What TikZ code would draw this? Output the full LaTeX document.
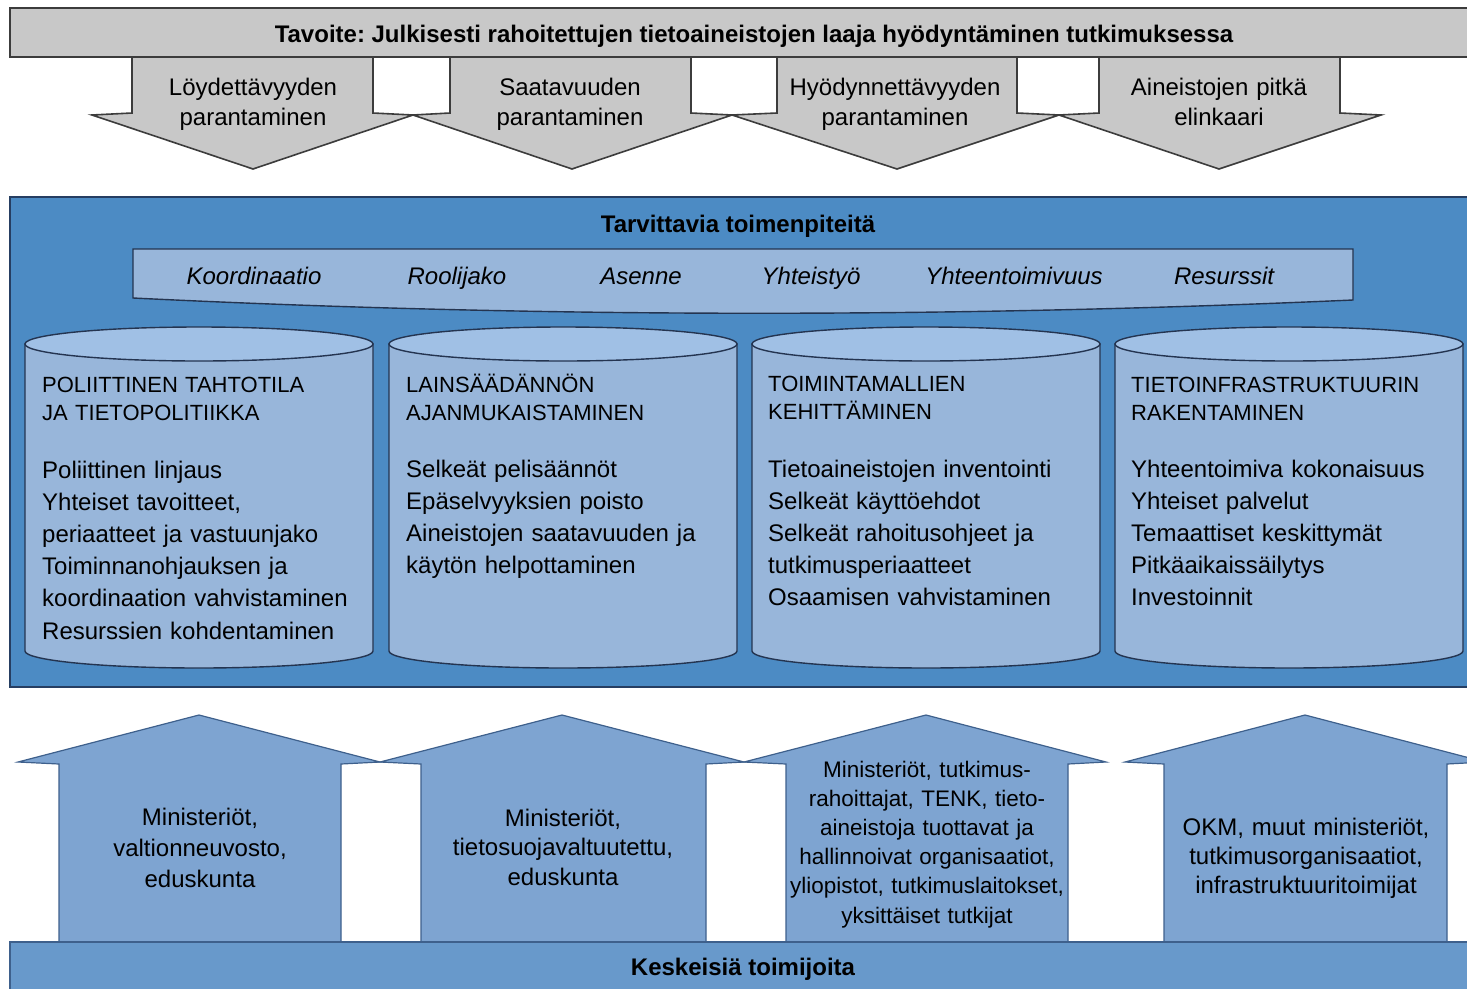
\documentclass[tikz,border=0pt]{standalone}
\usepackage{fontspec}
\setmainfont{Liberation Sans}
\usepackage{tikz}
\frenchspacing

\definecolor{goalgray}{RGB}{200,200,200}
\definecolor{goaledge}{RGB}{60,60,60}
\definecolor{actblue}{RGB}{76,139,196}
\definecolor{actedge}{RGB}{38,62,98}
\definecolor{cylblue}{RGB}{152,182,218}
\definecolor{capblue}{RGB}{160,192,229}
\definecolor{cyledge}{RGB}{36,52,80}
\definecolor{upblue}{RGB}{126,164,209}
\definecolor{upedge}{RGB}{62,96,140}
\definecolor{baseblue}{RGB}{104,153,203}

\begin{document}
\begin{tikzpicture}[x=1pt,y=-1pt,line join=miter,
    lbl/.style={inner sep=0pt,anchor=base,text width=340pt,align=center,font=\fontsize{24}{30}\selectfont},
    hdr/.style={inner sep=0pt,anchor=base,font=\fontsize{24}{30}\selectfont\bfseries},
    itm/.style={inner sep=0pt,anchor=base,font=\fontsize{24}{30}\selectfont\itshape},
    cylhead/.style={inner sep=0pt,anchor=base west,text width=330pt,align=left,font=\fontsize{22}{28}\selectfont},
    cyltext/.style={inner sep=0pt,anchor=base west,text width=330pt,align=left,font=\fontsize{24}{32.2}\selectfont},
    grayshape/.style={draw=goaledge,fill=goalgray,line width=1.6pt},
    upshape/.style={draw=upedge,fill=upblue,line width=1.2pt},
    cylbody/.style={draw=cyledge,fill=cylblue,line width=1.4pt},
    cylcap/.style={draw=cyledge,fill=capblue,line width=1.4pt}
  ]
\useasboundingbox (0,0) rectangle (1467,988);
% down arrows
\draw[grayshape] (132,57) -- (132,113) -- (92,115) -- (253,169) -- (413,115) -- (373,113) -- (373,57) -- cycle;
\draw[grayshape] (450,57) -- (450,113) -- (413,115) -- (572,169) -- (732,115) -- (691,113) -- (691,57) -- cycle;
\draw[grayshape] (777,57) -- (777,113) -- (732,115) -- (897,169) -- (1059,115) -- (1017,113) -- (1017,57) -- cycle;
\draw[grayshape] (1099,57) -- (1099,113) -- (1059,115) -- (1219,169) -- (1381,115) -- (1340,113) -- (1340,57) -- cycle;
% goal bar
\draw[grayshape] (10,8) rectangle (1480,57);
\node[hdr] (goal) at (754,42) {Tavoite: Julkisesti rahoitettujen tietoaineistojen laaja hyödyntäminen tutkimuksessa};
\node[lbl] (find) at (253,95) {Löydettävyyden\\parantaminen};
\node[lbl] (avail) at (570,95) {Saatavuuden\\parantaminen};
\node[lbl] (use) at (895,95) {Hyödynnettävyyden\\parantaminen};
\node[lbl] (life) at (1219,95) {Aineistojen pitkä\\elinkaari};
% actions box
\draw[fill=actblue,draw=actedge,line width=1.4pt] (10,197) rectangle (1480,687);
\node[hdr] (act) at (738,232) {Tarvittavia toimenpiteitä};
\draw[cylbody] (133,249) -- (1353,249) -- (1353,300) .. controls (946,318) and (540,318) .. (133,298) -- cycle;
\node[itm] (coord) at (254,284) {Koordinaatio};
\node[itm] (roles) at (457,284) {Roolijako};
\node[itm] (attit) at (641,284) {Asenne};
\node[itm] (coop) at (811,284) {Yhteistyö};
\node[itm] (inter) at (1014,284) {Yhteentoimivuus};
\node[itm] (res) at (1224,284) {Resurssit};
% cylinders
\draw[cylbody] (25,344) -- (25,651) arc[start angle=180,end angle=0,x radius=174,y radius=17] -- (373,344) -- cycle;
\draw[cylcap] (199,344) ellipse [x radius=174,y radius=17];
\draw[cylbody] (389,344) -- (389,651) arc[start angle=180,end angle=0,x radius=174,y radius=17] -- (737,344) -- cycle;
\draw[cylcap] (563,344) ellipse [x radius=174,y radius=17];
\draw[cylbody] (752,344) -- (752,651) arc[start angle=180,end angle=0,x radius=174,y radius=17] -- (1100,344) -- cycle;
\draw[cylcap] (926,344) ellipse [x radius=174,y radius=17];
\draw[cylbody] (1115,344) -- (1115,651) arc[start angle=180,end angle=0,x radius=174,y radius=17] -- (1463,344) -- cycle;
\draw[cylcap] (1289,344) ellipse [x radius=174,y radius=17];
%
\node[cylhead] (polhead) at (42,392) {POLIITTINEN TAHTOTILA\\JA TIETOPOLITIIKKA};
\node[cyltext] (pol) at (42,478) {Poliittinen linjaus\\Yhteiset tavoitteet,\\periaatteet ja vastuunjako\\Toiminnanohjauksen ja\\koordinaation vahvistaminen\\Resurssien kohdentaminen};
\node[cylhead] (lawhead) at (406,392) {LAINSÄÄDÄNNÖN\\AJANMUKAISTAMINEN};
\node[cyltext] (law) at (406,477) {Selkeät pelisäännöt\\Epäselvyyksien poisto\\Aineistojen saatavuuden ja\\käytön helpottaminen};
\node[cylhead] (prochead) at (768,391) {TOIMINTAMALLIEN\\KEHITTÄMINEN};
\node[cyltext] (proc) at (768,477) {Tietoaineistojen inventointi\\Selkeät käyttöehdot\\Selkeät rahoitusohjeet ja\\tutkimusperiaatteet\\Osaamisen vahvistaminen};
\node[cylhead] (infhead) at (1131,392) {TIETOINFRASTRUKTUURIN\\RAKENTAMINEN};
\node[cyltext] (inf) at (1131,477) {Yhteentoimiva kokonaisuus\\Yhteiset palvelut\\Temaattiset keskittymät\\Pitkäaikaissäilytys\\Investoinnit};
% up arrows
\draw[upshape] (59,942) -- (59,764) -- (18,762) -- (199,715) -- (380,762) -- (341,764) -- (341,942) -- cycle;
\draw[upshape] (421,942) -- (421,764) -- (380,762) -- (562,715) -- (744,762) -- (706,764) -- (706,942) -- cycle;
\draw[upshape] (786,942) -- (786,764) -- (744,762) -- (926,715) -- (1106,762) -- (1068,764) -- (1068,942) -- cycle;
\draw[upshape] (1164,942) -- (1164,764) -- (1125,762) -- (1305,715) -- (1485,762) -- (1447,764) -- (1447,942) -- cycle;
\node[lbl,font=\fontsize{24}{31}\selectfont] (gov) at (200,825) {Ministeriöt,\\valtionneuvosto,\\eduskunta};
\node[lbl,font=\fontsize{24}{29.5}\selectfont] (priv) at (563,826) {Ministeriöt,\\tietosuojavaltuutettu,\\eduskunta};
\node[lbl,font=\fontsize{22.5}{29.2}\selectfont] (fund) at (927,777) {Ministeriöt, tutkimus-\\rahoittajat, TENK, tieto-\\aineistoja tuottavat ja\\hallinnoivat organisaatiot,\\yliopistot, tutkimuslaitokset,\\yksittäiset tutkijat};
\node[lbl,font=\fontsize{24}{29}\selectfont] (okm) at (1306,835) {OKM, muut ministeriöt,\\tutkimusorganisaatiot,\\infrastruktuuritoimijat};
% actors bar
\draw[fill=baseblue,draw=upedge,line width=1.2pt] (10,942) rectangle (1480,1000);
\node[hdr] (actors) at (743,975) {Keskeisiä toimijoita};
\end{tikzpicture}
\end{document}
